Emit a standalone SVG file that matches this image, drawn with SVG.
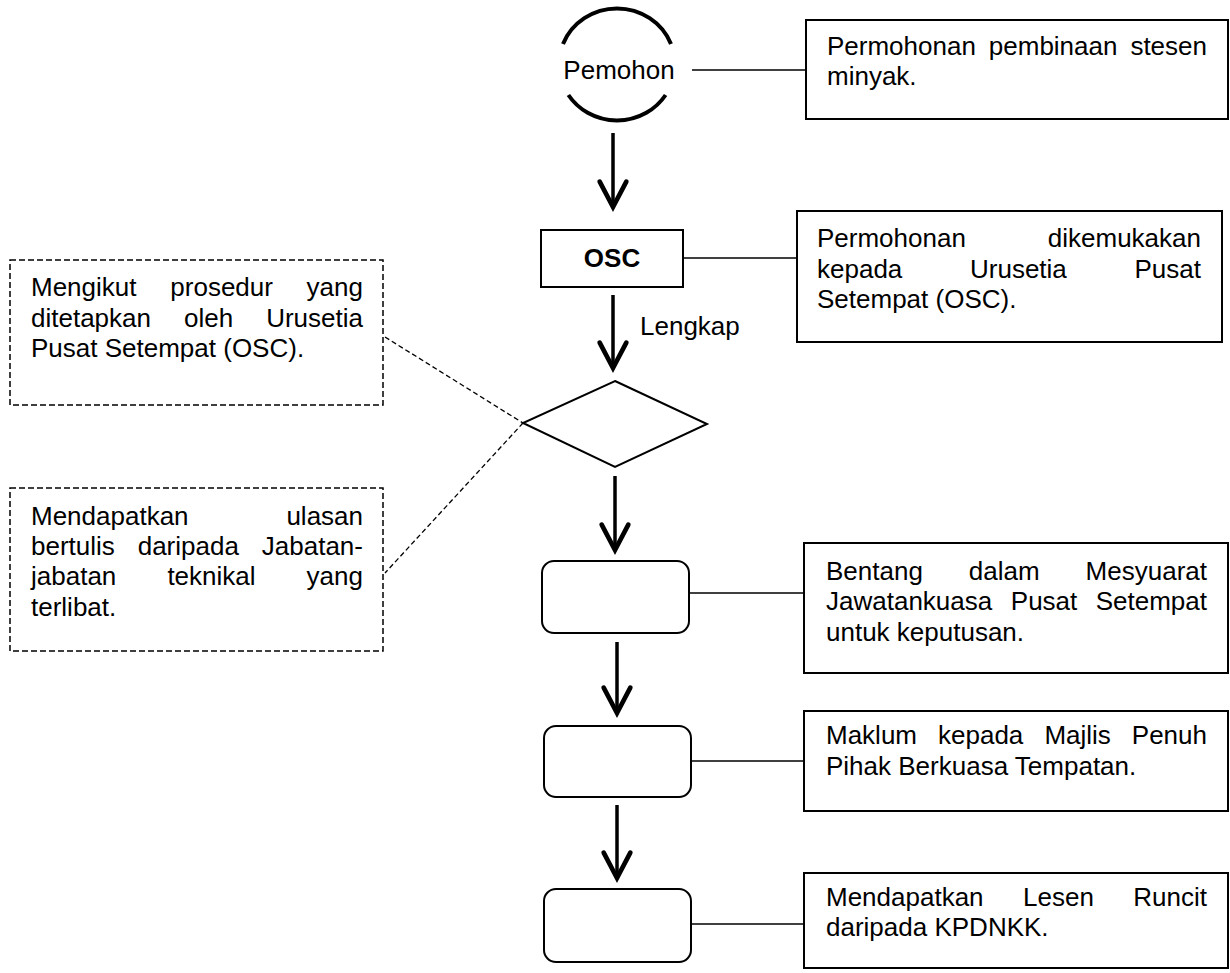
<svg xmlns="http://www.w3.org/2000/svg" width="1230" height="973" viewBox="0 0 1230 973">
<style>
text{font-family:"Liberation Sans",Arial,sans-serif;font-size:26px;fill:#000}
.box{fill:#fff;stroke:#000;stroke-width:2}
.dash{fill:#fff;stroke:#000;stroke-width:1.5;stroke-dasharray:6 3}
.ln{stroke:#000;stroke-width:1.6;fill:none}
.dl{stroke:#000;stroke-width:1.3;stroke-dasharray:5 3;fill:none}
.arr{stroke:#000;stroke-width:3.5;fill:none;marker-end:url(#ah)}
.arc{stroke:#000;stroke-width:4;fill:none}
</style>
<defs>
<marker id="ah" markerUnits="userSpaceOnUse" markerWidth="40" markerHeight="40" viewBox="-25 -15 30 30" refX="0" refY="0" orient="auto" overflow="visible">
<path d="M-19,-10 L0,0 L-19,10" fill="none" stroke="#000" stroke-width="3.5" stroke-linecap="round"/>
</marker>
</defs>
<rect width="1230" height="973" fill="#fff"/>
<g id="connectors">
<line class="ln" x1="692" y1="70" x2="806" y2="70"/>
<line class="ln" x1="683" y1="258" x2="797" y2="258"/>
<line class="ln" x1="689" y1="593" x2="804" y2="593"/>
<line class="ln" x1="691" y1="761" x2="804" y2="761"/>
<line class="ln" x1="691" y1="924" x2="804" y2="924"/>
<line class="dl" x1="385" y1="337" x2="523" y2="423"/>
<line class="dl" x1="523" y1="423" x2="385" y2="573"/>
<line class="arr" x1="613" y1="133" x2="613" y2="207"/>
<line class="arr" x1="613" y1="295" x2="613" y2="368"/>
<line class="arr" x1="615" y1="476" x2="615" y2="550"/>
<line class="arr" x1="617" y1="642" x2="617" y2="713"/>
<line class="arr" x1="617" y1="805" x2="617" y2="878"/>
<text x="640" y="335">Lengkap</text>
</g>
<g id="pemohon">
<path class="arc" d="M563,44 A58,56 0 0,1 671,44"/>
<path class="arc" d="M568.4,95 A58,56 0 0,0 665.6,95"/>
<text x="619" y="79" text-anchor="middle">Pemohon</text>
</g>
<g id="noteA">
<rect class="box" x="806" y="20" width="422" height="99"/>
<text><tspan x="827" y="55">Permohonan</tspan><tspan x="988.8" y="55">pembinaan</tspan><tspan x="1130.4" y="55">stesen</tspan><tspan x="827" y="85">minyak.</tspan></text>
</g>
<g id="osc">
<rect class="box" x="541" y="230" width="142" height="57"/>
<text x="612" y="267" text-anchor="middle" font-weight="bold">OSC</text>
</g>
<g id="noteB">
<rect class="box" x="797" y="211" width="425" height="131"/>
<text><tspan x="817" y="247">Permohonan</tspan><tspan x="1047.8" y="247">dikemukakan</tspan><tspan x="817" y="278">kepada</tspan><tspan x="970" y="278">Urusetia</tspan><tspan x="1134.5" y="278">Pusat</tspan><tspan x="817" y="308">Setempat (OSC).</tspan></text>
</g>
<g id="noteC">
<rect class="dash" x="10" y="260" width="373" height="145"/>
<text><tspan x="31" y="296">Mengikut</tspan><tspan x="170.3" y="296">prosedur</tspan><tspan x="306.6" y="296">yang</tspan><tspan x="31" y="327">ditetapkan</tspan><tspan x="184" y="327">oleh</tspan><tspan x="266.2" y="327">Urusetia</tspan><tspan x="31" y="357">Pusat Setempat (OSC).</tspan></text>
</g>
<g id="noteD">
<rect class="dash" x="10" y="488" width="373" height="163"/>
<text><tspan x="31" y="525">Mendapatkan</tspan><tspan x="286.4" y="525">ulasan</tspan><tspan x="31" y="555">bertulis</tspan><tspan x="137.7" y="555">daripada</tspan><tspan x="261.8" y="555">Jabatan-</tspan><tspan x="31" y="585">jabatan</tspan><tspan x="167.4" y="585">teknikal</tspan><tspan x="306.6" y="585">yang</tspan><tspan x="31" y="616">terlibat.</tspan></text>
</g>
<g id="decision">
<polygon class="box" stroke-width="1.6" points="615,381 707,424 615,467 523,423"/>
</g>
<g id="step1">
<rect class="box" x="542" y="561" width="147" height="72" rx="12"/>
</g>
<g id="noteE">
<rect class="box" x="804" y="543" width="424" height="130"/>
<text><tspan x="826" y="580">Bentang</tspan><tspan x="968.8" y="580">dalam</tspan><tspan x="1085.6" y="580">Mesyuarat</tspan><tspan x="826" y="610">Jawatankuasa</tspan><tspan x="1010.8" y="610">Pusat</tspan><tspan x="1095.7" y="610">Setempat</tspan><tspan x="826" y="641">untuk keputusan.</tspan></text>
</g>
<g id="step2">
<rect class="box" x="544" y="726" width="147" height="71" rx="12"/>
</g>
<g id="noteF">
<rect class="box" x="804" y="711" width="424" height="100"/>
<text><tspan x="826" y="744">Maklum</tspan><tspan x="938" y="744">kepada</tspan><tspan x="1044.4" y="744">Majlis</tspan><tspan x="1131.8" y="744">Penuh</tspan><tspan x="826" y="775">Pihak Berkuasa Tempatan.</tspan></text>
</g>
<g id="step3">
<rect class="box" x="544" y="889" width="147" height="73" rx="12"/>
</g>
<g id="noteG">
<rect class="box" x="804" y="873" width="424" height="95"/>
<text><tspan x="826" y="906">Mendapatkan</tspan><tspan x="1023.1" y="906">Lesen</tspan><tspan x="1133.3" y="906">Runcit</tspan><tspan x="826" y="936">daripada KPDNKK.</tspan></text>
</g>
</svg>
